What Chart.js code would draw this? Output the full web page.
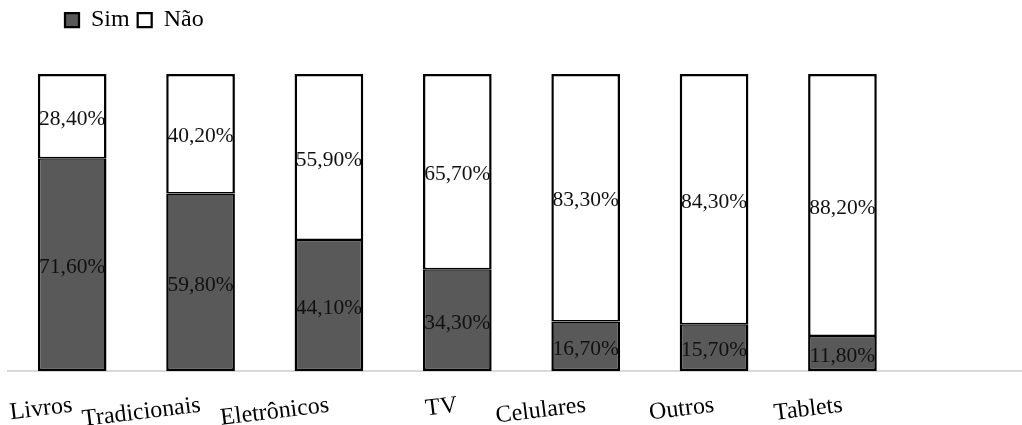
<!DOCTYPE html>
<html>
<head>
<meta charset="utf-8">
<script src="https://cdn.jsdelivr.net/npm/chart.js@4/dist/chart.umd.min.js"></script>
<style>
    html, body { margin: 0; padding: 0; background: #fff; overflow: hidden; }
    #wrap { width: 1035px; height: 425px; }
</style>
</head>
<body>
<div id="wrap"><canvas id="chart"></canvas></div>
<script>
// last slot is empty in the original (plot area runs past the right edge)
const categories = ['Livros', 'Tradicionais', 'Eletrônicos', 'TV', 'Celulares', 'Outros', 'Tablets', ''];
const simValues = [71.6, 59.8, 44.1, 34.3, 16.7, 15.7, 11.8, null];
const naoValues = [28.4, 40.2, 55.9, 65.7, 83.3, 84.3, 88.2, null];

const SERIF = "'Liberation Serif', 'Times New Roman', serif";

// values written in the middle of each segment, pt-BR style
const segmentLabels = {
    id: 'segmentLabels',
    afterDatasetsDraw(chart) {
        const ctx = chart.ctx;
        ctx.save();
        ctx.font = `21.5px ${SERIF}`;
        ctx.fillStyle = '#111';
        ctx.textAlign = 'center';
        ctx.textBaseline = 'middle';
        chart.data.datasets.forEach((ds, di) => {
            chart.getDatasetMeta(di).data.forEach((bar, i) => {
                const v = ds.data[i];
                if (v == null) return;
                const txt = v.toFixed(2).replace('.', ',') + '%';
                ctx.fillText(txt, bar.x, (bar.y + bar.base) / 2 + 3);
            });
        });
        ctx.restore();
    },
};

// legend sits indented from the plot's left edge
const legendShift = {
    id: 'legendShift',
    afterLayout(chart) {
        chart.legend.left += 49;
    },
};

new Chart(document.getElementById('chart'), {
    type: 'bar',
    data: {
        labels: categories,
        datasets: [
            {
                label: 'Sim', data: simValues, backgroundColor: '#595959', borderColor: '#000',
                borderWidth: { top: 1.5, left: 2.5, right: 2.5, bottom: 2.5 }, borderSkipped: false,
            },
            {
                label: 'Não', data: naoValues, backgroundColor: '#fff', borderColor: '#000',
                borderWidth: { top: 2.5, left: 2.5, right: 2.5, bottom: 1.5 }, borderSkipped: false,
            },
        ],
    },
    plugins: [segmentLabels, legendShift],
    options: {
        responsive: true,
        maintainAspectRatio: false,
        animation: false,
        layout: { padding: { left: 8, right: 0, top: 0, bottom: 0 } },
        datasets: { bar: { barPercentage: 0.535, categoryPercentage: 1 } },
        plugins: {
            legend: {
                position: 'top',
                align: 'start',
                labels: {
                    color: '#000', font: { family: SERIF, size: 24 },
                    boxWidth: 14, boxHeight: 14, padding: 8,
                },
            },
            tooltip: { enabled: false },
        },
        scales: {
            x: {
                stacked: true,
                grid: { display: false },
                border: { color: '#d9d9d9', width: 2 },
                ticks: {
                    color: '#000', font: { family: SERIF, size: 24 },
                    minRotation: 7, maxRotation: 7, padding: 12, autoSkip: false,
                },
                afterFit: (scale) => {
                    scale.height = 54;
                    scale.paddingLeft = 0;
                    scale.paddingRight = 0;
                },
            },
            // empty band between legend and bars
            gap: {
                type: 'linear', position: 'top', display: true,
                grid: { display: false }, border: { display: false },
                ticks: { display: false },
                afterFit: (scale) => { scale.height = 32; },
            },
            y: { stacked: true, display: false, min: 0, max: 100 },
        },
    },
});
</script>
</body>
</html>
